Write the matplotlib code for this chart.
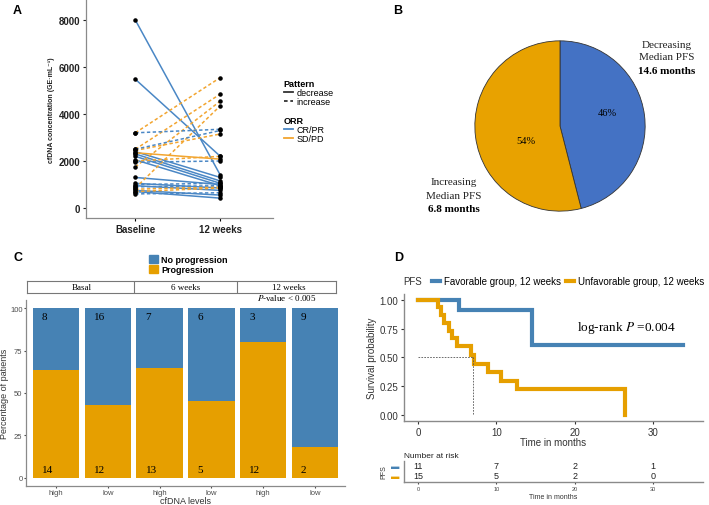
import numpy as np
import matplotlib
matplotlib.use('Agg')
import matplotlib.pyplot as plt
from matplotlib.lines import Line2D
from matplotlib.patches import Patch

plt.rcParams['font.family'] = ['Liberation Sans', 'DejaVu Sans']
plt.rcParams['mathtext.fontset'] = 'stix'

W, H = 709, 506
fig = plt.figure(figsize=(W / 100, H / 100), dpi=100)

def px_axes(x0, y0, x1, y1):
    return fig.add_axes([x0 / W, 1 - y1 / H, (x1 - x0) / W, (y1 - y0) / H])

# ---- data ----
# A: cfDNA baseline vs 12 weeks
baseline = [8000, 5480, 2400, 2300, 2200, 2050, 1300, 1050, 950, 750, 700, 2350,
            3200, 2500, 2450, 1750, 850, 2000, 800, 700,
            3200, 2500, 1950, 1000, 900, 600]
week12 = [1400, 2200, 1300, 1150, 1050, 950, 1000, 850, 750, 550, 420, 2080,
          5550, 4850, 3150, 4550, 4350, 2200, 900, 850,
          3350, 3300, 2000, 1050, 950, 650]
pattern = ['decrease'] * 12 + ['increase'] * 14
orr = ['CR/PR'] * 11 + ['SD/PD'] + ['SD/PD'] * 8 + ['CR/PR'] * 6
timepoints = ['Baseline', '12 weeks']

# B: pie
pie_labels = ['Decreasing', 'Increasing']
pie_share = [46, 54]
median_pfs_pie = ['14.6 months', '6.8 months']

# C: progression by cfDNA level
strips = ['Basal', '6 weeks', '12 weeks']
levels = ['high', 'low', 'high', 'low', 'high', 'low']
no_prog = np.array([8, 16, 7, 6, 3, 9])
prog = np.array([14, 12, 13, 5, 12, 2])

# D: Kaplan-Meier
fav_t = [0, 5.2, 14.6]
fav_s = [1.0, 0.909, 0.606]
fav_end = 33.9
unf_t = [0, 2.5, 2.9, 3.3, 3.9, 4.4, 5.0, 6.8, 7.1, 9.0, 10.6, 12.6, 26.5]
unf_s = [1.0, 0.933, 0.867, 0.8, 0.733, 0.667, 0.6, 0.52, 0.444, 0.37, 0.296, 0.222, 0.0]
median_unf = 7.05
risk_times = [0, 10, 20, 30]
risk_fav = [11, 7, 2, 1]
risk_unf = [15, 5, 2, 0]

blueA, orangeA = '#4A87C5', '#F2A530'
blueB, orangeB = '#4472C4', '#E8A200'
blueC, orangeC = '#4682B4', '#E69F00'
axis_gray = '#8a8a8a'
tick_gray = '#4d4d4d'

# ---- panel A ----
axA = px_axes(86, 1, 273, 219)
for b, w, pat, o in zip(baseline, week12, pattern, orr):
    c = blueA if o == 'CR/PR' else orangeA
    ls = '-' if pat == 'decrease' else (0, (2.2, 1.6))
    axA.plot([1, 2], [b, w], color=c, ls=ls, lw=1.1, zorder=2)
axA.scatter([1] * len(baseline) + [2] * len(week12), baseline + week12,
            s=5, color='black', zorder=3)
axA.set_xlim(0.42, 2.62)
axA.set_ylim(-425, 8851)
axA.set_xticks([1, 2])
axA.set_xticklabels(timepoints, fontsize=7, fontweight='bold', color='#222222')
axA.set_yticks([0, 2000, 4000, 6000, 8000])
axA.tick_params(axis='y', labelsize=7, colors='#222222', length=2, pad=2)
axA.tick_params(axis='x', length=2, pad=2)
for lbl in axA.get_yticklabels():
    lbl.set_fontweight('bold')
for s in ['top', 'right']:
    axA.spines[s].set_visible(False)
for s in ['left', 'bottom']:
    axA.spines[s].set_color(axis_gray)
    axA.spines[s].set_linewidth(0.9)
axA.set_ylabel('cfDNA concentration (GE·mL⁻¹)', fontsize=5, fontweight='bold',
               color='#222222', labelpad=3)

leg1 = axA.legend([Line2D([], [], color='#333333', lw=1.3),
                   Line2D([], [], color='#333333', lw=1.3, ls=(0, (2, 1.5)))],
                  ['decrease', 'increase'], title='Pattern', loc='upper left',
                  bbox_to_anchor=(279 / W, 1 - 75 / H), bbox_transform=fig.transFigure,
                  frameon=False, fontsize=6.5, handlelength=1.0, handletextpad=0.4,
                  labelspacing=0.05, borderpad=0, alignment='left',
                  title_fontproperties={'weight': 'bold', 'size': 6.5})
axA.add_artist(leg1)
axA.legend([Line2D([], [], color=blueA, lw=1.3), Line2D([], [], color=orangeA, lw=1.3)],
           ['CR/PR', 'SD/PD'], title='ORR', loc='upper left',
           bbox_to_anchor=(279 / W, 1 - 112 / H), bbox_transform=fig.transFigure,
           frameon=False, fontsize=6.5, handlelength=1.0, handletextpad=0.4,
           labelspacing=0.05, borderpad=0, alignment='left',
           title_fontproperties={'weight': 'bold', 'size': 6.5})

# ---- panel B ----
axB = px_axes(474, 41, 646, 213)
wedges, _ = axB.pie(pie_share, colors=[blueB, orangeB], startangle=90, counterclock=False,
                    wedgeprops=dict(edgecolor='#333333', linewidth=0.6))
axB.set_xlim(-1.01, 1.01)
axB.set_ylim(-1.01, 1.01)
serif = 'Liberation Serif'
axB.text(0.55, 0.16, f'{pie_share[0]}%', ha='center', va='center', family=serif, fontsize=7.5)
axB.text(-0.40, -0.17, f'{pie_share[1]}%', ha='center', va='center', family=serif, fontsize=7.5)
for (x, ys), name, med in zip([(1.256, (0.96, 0.814, 0.65)), (-1.25, (-0.651, -0.814, -0.965))],
                              pie_labels, median_pfs_pie):
    axB.text(x, ys[0], name, ha='center', va='center', family=serif, fontsize=8, color='#222222')
    axB.text(x, ys[1], 'Median PFS', ha='center', va='center', family=serif, fontsize=8, color='#222222')
    axB.text(x, ys[2], med, ha='center', va='center', family=serif, fontsize=8, fontweight='bold')

# ---- panel C ----
axC = px_axes(26, 301, 345, 487)
x = np.arange(len(levels))
pct_prog = prog / (prog + no_prog) * 100
axC.bar(x, pct_prog, width=0.9, color=orangeC)
axC.bar(x, 100 - pct_prog, bottom=pct_prog, width=0.9, color=blueC)
for i in x:
    axC.text(i - 0.27, 95.5, str(no_prog[i]), ha='left', va='center', family=serif, fontsize=8)
    axC.text(i - 0.27, 4.6, str(prog[i]), ha='left', va='center', family=serif, fontsize=8)
axC.set_xlim(-0.58, 5.58)
axC.set_ylim(-5, 105)
axC.set_xticks(x)
axC.set_xticklabels(levels)
axC.set_yticks([0, 25, 50, 75, 100])
axC.tick_params(labelsize=5.5, colors=tick_gray, length=1.5, pad=1)
for s in ['top', 'right']:
    axC.spines[s].set_visible(False)
for s in ['left', 'bottom']:
    axC.spines[s].set_color(axis_gray)
    axC.spines[s].set_linewidth(0.9)
axC.set_ylabel('Percentage of patients', fontsize=6.5, color='#333333', labelpad=0.5)
axC.set_xlabel('cfDNA levels', fontsize=6.5, color='#333333', labelpad=0)
axC.text(4.45, 106.5, r'$\mathit{P}$-value < 0.005', ha='center', va='center',
         family=serif, fontsize=6.5)
axC.legend([Patch(color=blueC), Patch(color=orangeC)], ['No progression', 'Progression'],
           loc='upper left', bbox_to_anchor=(144 / W, 1 - 251 / H), bbox_transform=fig.transFigure,
           frameon=False, prop={'weight': 'bold', 'size': 6.5}, handlelength=1.0,
           handleheight=1.0, handletextpad=0.4, labelspacing=0.1, borderpad=0)

stripC = px_axes(27, 282, 336, 294)
stripC.set_xlim(-0.56, 5.405)
stripC.set_ylim(0, 1)
stripC.set_xticks([])
stripC.set_yticks([])
for s in stripC.spines.values():
    s.set_color('#777777')
    s.set_linewidth(0.8)
for xv in [1.5, 3.5]:
    stripC.axvline(xv, color='#777777', lw=0.8)
for i, lab in enumerate(strips):
    stripC.text(2 * i + 0.5, 0.5, lab, ha='center', va='center', family=serif, fontsize=6.5)

# ---- panel D ----
axD = px_axes(404, 295, 703, 422)
axD.step(fav_t + [fav_end], fav_s + [fav_s[-1]], where='post', color=blueC, lw=3,
         solid_joinstyle='miter')
axD.step(unf_t, unf_s, where='post', color=orangeC, lw=3, solid_joinstyle='miter')
axD.plot([0, median_unf], [0.5, 0.5], color='#555555', lw=0.6, ls=(0, (2, 1.5)))
axD.plot([median_unf, median_unf], [0.5, 0], color='#555555', lw=0.6, ls=(0, (2, 1.5)))
axD.set_xlim(-1.79, 36.4)
axD.set_ylim(-0.052, 1.05)
axD.set_xticks(risk_times)
axD.set_yticks([0, 0.25, 0.5, 0.75, 1.0])
axD.set_yticklabels(['0.00', '0.25', '0.50', '0.75', '1.00'])
axD.tick_params(labelsize=7, colors='#333333', length=2, pad=2)
for s in ['top', 'right']:
    axD.spines[s].set_visible(False)
for s in ['left', 'bottom']:
    axD.spines[s].set_color(axis_gray)
    axD.spines[s].set_linewidth(1.0)
axD.set_ylabel('Survival probability', fontsize=7, color='#333333', labelpad=2)
axD.set_xlabel('Time in months', fontsize=7, color='#333333', labelpad=0)
axD.text(26.6, 0.765, r'log-rank $\mathit{P}$ =0.004', ha='center', va='center',
         family=serif, fontsize=9.5)
fig.text(403 / W, 1 - 282 / H, 'PFS', fontsize=7, color='#333333', va='center')
axD.legend([Line2D([], [], color=blueC, lw=3), Line2D([], [], color=orangeC, lw=3)],
           ['Favorable group, 12 weeks', 'Unfavorable group, 12 weeks'], ncol=2,
           loc='center left', bbox_to_anchor=(427 / W, 1 - 282 / H), bbox_transform=fig.transFigure,
           frameon=False, fontsize=7, handlelength=0.8, handletextpad=0.4,
           columnspacing=0.6, borderpad=0)

axR = px_axes(404, 462, 703, 483)
axR.set_xlim(-1.79, 36.4)
axR.set_ylim(0.4, 2.5)
for t, a, b in zip(risk_times, risk_fav, risk_unf):
    axR.text(t, 2, str(a), ha='center', va='center', fontsize=6.5, color='#222222')
    axR.text(t, 1, str(b), ha='center', va='center', fontsize=6.5, color='#222222')
axR.set_yticks([2, 1])
axR.set_yticklabels(['▬', '▬'], fontsize=6)
for lbl, c in zip(axR.get_yticklabels(), [blueC, orangeC]):
    lbl.set_color(c)
axR.tick_params(axis='y', length=0, pad=3)
axR.set_xticks(risk_times)
axR.tick_params(axis='x', labelsize=4, colors='#444444', length=1.5, pad=1.5)
for s in ['top', 'right']:
    axR.spines[s].set_visible(False)
for s in ['left', 'bottom']:
    axR.spines[s].set_color(axis_gray)
    axR.spines[s].set_linewidth(1.0)
axR.set_title('Number at risk', loc='left', fontsize=6, color='#222222', pad=3)
axR.set_ylabel('PFS', fontsize=5, color='#333333', labelpad=3)
axR.set_xlabel('Time in months', fontsize=5, color='#333333', labelpad=1)

# panel letters
for lab, (px, py) in zip('ABCD', [(13, 11), (393, 11), (13, 258), (394, 258)]):
    fig.text(px / W, 1 - py / H, lab, fontsize=9, fontweight='bold', va='center')

fig.savefig('out.png', dpi=100)
